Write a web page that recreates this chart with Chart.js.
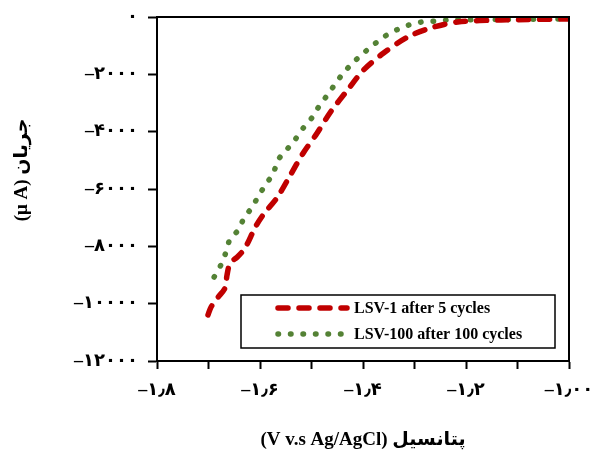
<!DOCTYPE html>
<html>
<head>
<meta charset="utf-8">
<script src="https://cdn.jsdelivr.net/npm/chart.js@4.4.1/dist/chart.umd.min.js"></script>
<style>
  body { margin: 0; background: #fff; }
  #wrap { width: 598px; height: 452px; }
</style>
</head>
<body>
<div id="wrap"><canvas id="lsvChart" width="598" height="452"></canvas></div>
<script>
// LSV-1 after 5 cycles (V vs current, µA)
const redV = [-1.701, -1.695, -1.681, -1.668, -1.664, -1.658, -1.644, -1.629, -1.609, -1.594, -1.566, -1.541, -1.516, -1.489, -1.463, -1.430, -1.399, -1.360, -1.313, -1.269, -1.216, -1.132, -1.000];
const redI = [-10395, -10116, -9767, -9453, -9000, -8581, -8372, -8058, -7326, -6907, -6279, -5512, -4744, -4047, -3314, -2547, -1849, -1256, -698, -384, -174, -105, -70];

// LSV-100 after 100 cycles
const greenV = [-1.689, -1.675, -1.666, -1.658, -1.642, -1.631, -1.615, -1.602, -1.588, -1.574, -1.565, -1.547, -1.531, -1.516, -1.498, -1.485, -1.469, -1.454, -1.438, -1.420, -1.401, -1.380, -1.360, -1.335, -1.311, -1.286, -1.259, -1.234, -1.000];
const greenI = [-9070, -8616, -8198, -7744, -7430, -7012, -6628, -6209, -5826, -5442, -4988, -4605, -4256, -3872, -3488, -3105, -2721, -2337, -1953, -1605, -1291, -977, -698, -453, -279, -174, -140, -105, -70];

const seriesNames = ['LSV-1 after 5 cycles', 'LSV-100 after 100 cycles'];
const xTickLabels = ['–۱٫۸', '–۱٫۶', '–۱٫۴', '–۱٫۲', '–۱٫۰۰'];
const yTickLabels = ['–۱۲۰۰۰', '–۱۰۰۰۰', '–۸۰۰۰', '–۶۰۰۰', '–۴۰۰۰', '–۲۰۰۰', '۰'];
const xTitle = '(V v.s Ag/AgCl) پتانسیل';
const yTitle = '(μ A) جریان';

const RED = '#c00000';
const GREEN = '#548235';
const FONT = "'Liberation Serif', 'DejaVu Sans', serif";

function toPoints(xs, ys) {
  return xs.map((x, i) => ({ x: x, y: ys[i] }));
}

// frame on top and right of the plot + rotated y title
const framePlugin = {
  id: 'frame',
  afterDraw(chart) {
    const { ctx, chartArea: a } = chart;
    ctx.save();
    ctx.strokeStyle = '#000';
    ctx.lineWidth = 2;
    ctx.beginPath();
    ctx.moveTo(a.left, a.top);
    ctx.lineTo(a.right, a.top);
    ctx.lineTo(a.right, a.bottom);
    ctx.stroke();

    ctx.translate(22, 170);
    ctx.rotate(-Math.PI / 2);
    ctx.fillStyle = '#000';
    ctx.font = 'bold 19px ' + FONT;
    ctx.textAlign = 'center';
    ctx.textBaseline = 'middle';
    ctx.fillText(yTitle, 0, 0);
    ctx.restore();
  }
};

// legend box inside the plot, bottom right
const boxLegend = {
  id: 'boxLegend',
  afterDraw(chart) {
    const { ctx, chartArea: a } = chart;
    const bx = a.left + 84, by = a.bottom - 66, bw = 314, bh = 53;
    ctx.save();
    ctx.fillStyle = '#fff';
    ctx.fillRect(bx, by, bw, bh);
    ctx.strokeStyle = '#000';
    ctx.lineWidth = 1.5;
    ctx.strokeRect(bx, by, bw, bh);
    chart.data.datasets.forEach((ds, i) => {
      const y = by + 13 + i * 26;
      ctx.strokeStyle = ds.borderColor;
      ctx.lineWidth = ds.borderWidth;
      ctx.lineCap = 'round';
      ctx.setLineDash(ds.borderDash);
      ctx.beginPath();
      ctx.moveTo(bx + 37, y);
      ctx.lineTo(bx + 106, y);
      ctx.stroke();
      ctx.setLineDash([]);
      ctx.fillStyle = '#000';
      ctx.font = 'bold 16px ' + FONT;
      ctx.textBaseline = 'middle';
      ctx.textAlign = 'left';
      ctx.fillText(ds.label, bx + 113, y + 1);
    });
    ctx.restore();
  }
};

new Chart(document.getElementById('lsvChart'), {
  type: 'line',
  data: {
    datasets: [
      {
        label: seriesNames[0],
        data: toPoints(redV, redI),
        borderColor: RED,
        borderWidth: 5.5,
        borderDash: [10, 11],
        borderCapStyle: 'round',
        pointRadius: 0,
        tension: 0.3,
        fill: false
      },
      {
        label: seriesNames[1],
        data: toPoints(greenV, greenI),
        borderColor: GREEN,
        borderWidth: 5.5,
        borderDash: [0.5, 12],
        borderCapStyle: 'round',
        pointRadius: 0,
        tension: 0.3,
        fill: false
      }
    ]
  },
  options: {
    responsive: false,
    animation: false,
    layout: { padding: { left: 0, right: 29, top: 17, bottom: 0 } },
    plugins: {
      legend: { display: false },
      tooltip: { enabled: false }
    },
    scales: {
      x: {
        type: 'linear',
        min: -1.8,
        max: -1.0,
        afterFit(scale) {
          scale.height = 91;
          scale.paddingLeft = 0;
          scale.paddingRight = 0;
        },
        ticks: {
          stepSize: 0.1,
          autoSkip: false,
          maxRotation: 0,
          padding: 11,
          color: '#000',
          font: { family: FONT, size: 18, weight: 'bold' },
          callback(value) {
            const k = Math.round((value + 1.8) * 10);
            return k % 2 === 0 ? xTickLabels[k / 2] : '';
          }
        },
        grid: { drawOnChartArea: false, tickLength: 8, tickWidth: 2, color: '#000' },
        border: { display: true, color: '#000', width: 2 },
        title: {
          display: true,
          text: xTitle,
          color: '#000',
          font: { family: FONT, size: 19, weight: 'bold' },
          padding: { top: 0, bottom: 1 }
        }
      },
      y: {
        min: -12000,
        max: 0,
        afterFit(scale) {
          scale.width = 157;
          scale.paddingTop = 0;
          scale.paddingBottom = 0;
        },
        ticks: {
          stepSize: 2000,
          padding: 10,
          color: '#000',
          font: { family: FONT, size: 18, weight: 'bold' },
          callback(value) {
            const k = Math.round((value + 12000) / 2000);
            return yTickLabels[k];
          }
        },
        grid: { drawOnChartArea: false, tickLength: 9, tickWidth: 2, color: '#000' },
        border: { display: true, color: '#000', width: 2 },
        title: { display: false }
      }
    }
  },
  plugins: [framePlugin, boxLegend]
});
</script>
</body>
</html>
